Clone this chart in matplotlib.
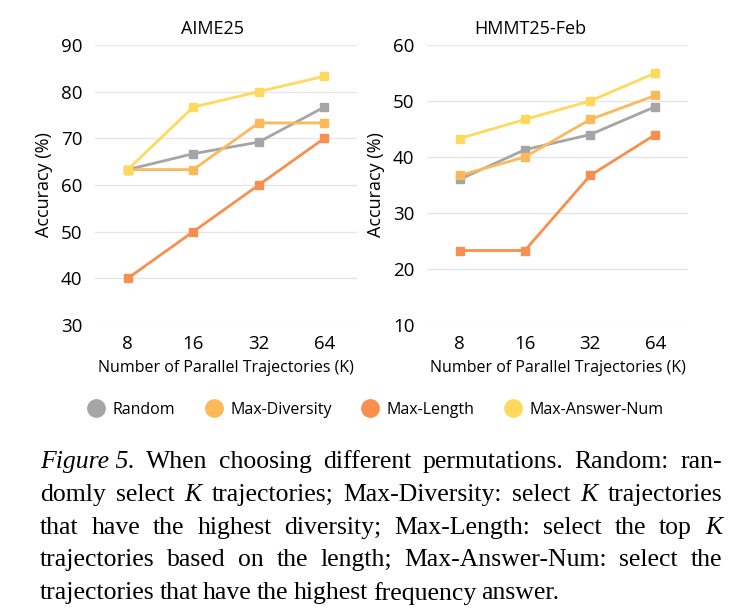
import matplotlib
matplotlib.use("Agg")
import matplotlib.pyplot as plt
from matplotlib.lines import Line2D

# data
k_labels = ["8", "16", "32", "64"]
methods = ["Random", "Max-Diversity", "Max-Length", "Max-Answer-Num"]
colors = ["#A5A5A5", "#FCB95A", "#F98F4E", "#FFD95C"]

aime_random = [63.3, 66.7, 69.2, 76.7]
aime_diversity = [63.3, 63.3, 73.3, 73.3]
aime_length = [40.0, 50.0, 60.0, 70.0]
aime_answer = [63.3, 76.7, 80.0, 83.3]

hmmt_random = [36.0, 41.3, 44.0, 49.0]
hmmt_diversity = [36.7, 40.0, 46.7, 51.0]
hmmt_length = [23.3, 23.3, 36.7, 44.0]
hmmt_answer = [43.3, 46.7, 50.0, 55.0]

W, H = 739, 613
fig = plt.figure(figsize=(W / 100, H / 100), dpi=100)
plt.rcParams["font.family"] = ["Open Sans", "DejaVu Sans"]


def px_axes(x0, x1, y0, y1):
    return fig.add_axes([x0 / W, 1 - y1 / H, (x1 - x0) / W, (y1 - y0) / H])


def draw_panel(ax, series, title, ylim, yticks, title_x):
    xs = range(len(k_labels))
    for vals, c in zip(series, colors):
        ax.plot(xs, vals, color=c, lw=2, marker="s", markersize=6, zorder=3)
    ax.set_xlim(-0.5, 3.5)
    ax.set_ylim(*ylim)
    ax.set_yticks(yticks)
    ax.set_xticks(list(xs))
    ax.set_xticklabels(k_labels)
    ax.tick_params(length=0, labelsize=13.5)
    ax.tick_params(axis="x", pad=7)
    ax.tick_params(axis="y", pad=9)
    for s in ax.spines.values():
        s.set_visible(False)
    ax.grid(axis="y", color="#E6E6E6", lw=1)
    ax.set_axisbelow(True)
    ax.set_title(title, fontsize=13, x=title_x, pad=8)
    ax.set_xlabel("Number of Parallel Trajectories (K)", fontsize=11.5, labelpad=5)
    ax.set_ylabel("Accuracy (%)", fontsize=13, labelpad=6)


ax1 = px_axes(95, 357, 45, 325)
draw_panel(ax1, [aime_random, aime_diversity, aime_length, aime_answer],
           "AIME25", (30, 90), range(30, 91, 10), 0.447)
ax2 = px_axes(427, 688, 45, 325)
draw_panel(ax2, [hmmt_random, hmmt_diversity, hmmt_length, hmmt_answer],
           "HMMT25-Feb", (10, 60), range(10, 61, 10), 0.395)

handles = [Line2D([], [], ls="none", marker="o", markersize=12.5, color=c) for c in colors]
fig.legend(handles, methods, loc="center", bbox_to_anchor=(372 / W, 1 - 410 / H),
           ncol=4, frameon=False, fontsize=11.5, handletextpad=0.05, columnspacing=1.4)

# caption, justified word by word
serif = "Liberation Serif"
cap_size = 18.5
cap_lines = [
    [("Figure 5.", "italic"), ("When", "normal"), ("choosing", "normal"), ("different", "normal"),
     ("permutations.", "normal"), ("Random:", "normal"), ("ran-", "normal")],
    [("domly", "normal"), ("select", "normal"), ("K", "italic"), ("trajectories;", "normal"),
     ("Max-Diversity:", "normal"), ("select", "normal"), ("K", "italic"), ("trajectories", "normal")],
    [("that", "normal"), ("have", "normal"), ("the", "normal"), ("highest", "normal"),
     ("diversity;", "normal"), ("Max-Length:", "normal"), ("select", "normal"), ("the", "normal"),
     ("top", "normal"), ("K", "italic")],
    [("trajectories", "normal"), ("based", "normal"), ("on", "normal"), ("the", "normal"),
     ("length;", "normal"), ("Max-Answer-Num:", "normal"), ("select", "normal"), ("the", "normal")],
    [("trajectories", "normal"), ("that", "normal"), ("have", "normal"), ("the", "normal"),
     ("highest", "normal"), ("frequency", "normal"), ("answer.", "normal")],
]
cap_left, cap_right = 40, 722
cap_y0, cap_dy = 462, 32.8

renderer = fig.canvas.get_renderer()
for i, words in enumerate(cap_lines):
    y = 1 - (cap_y0 + i * cap_dy) / H
    texts = [fig.text(0, y, w, family=serif, style=st, fontsize=cap_size, va="center")
             for w, st in words]
    widths = [t.get_window_extent(renderer).width for t in texts]
    if i < len(cap_lines) - 1:
        gap = (cap_right - cap_left - sum(widths)) / (len(words) - 1)
    else:
        gap = 5.0
    x = cap_left
    for t, w in zip(texts, widths):
        t.set_x(x / W)
        x += w + gap

fig.savefig("out.png", dpi=100)
